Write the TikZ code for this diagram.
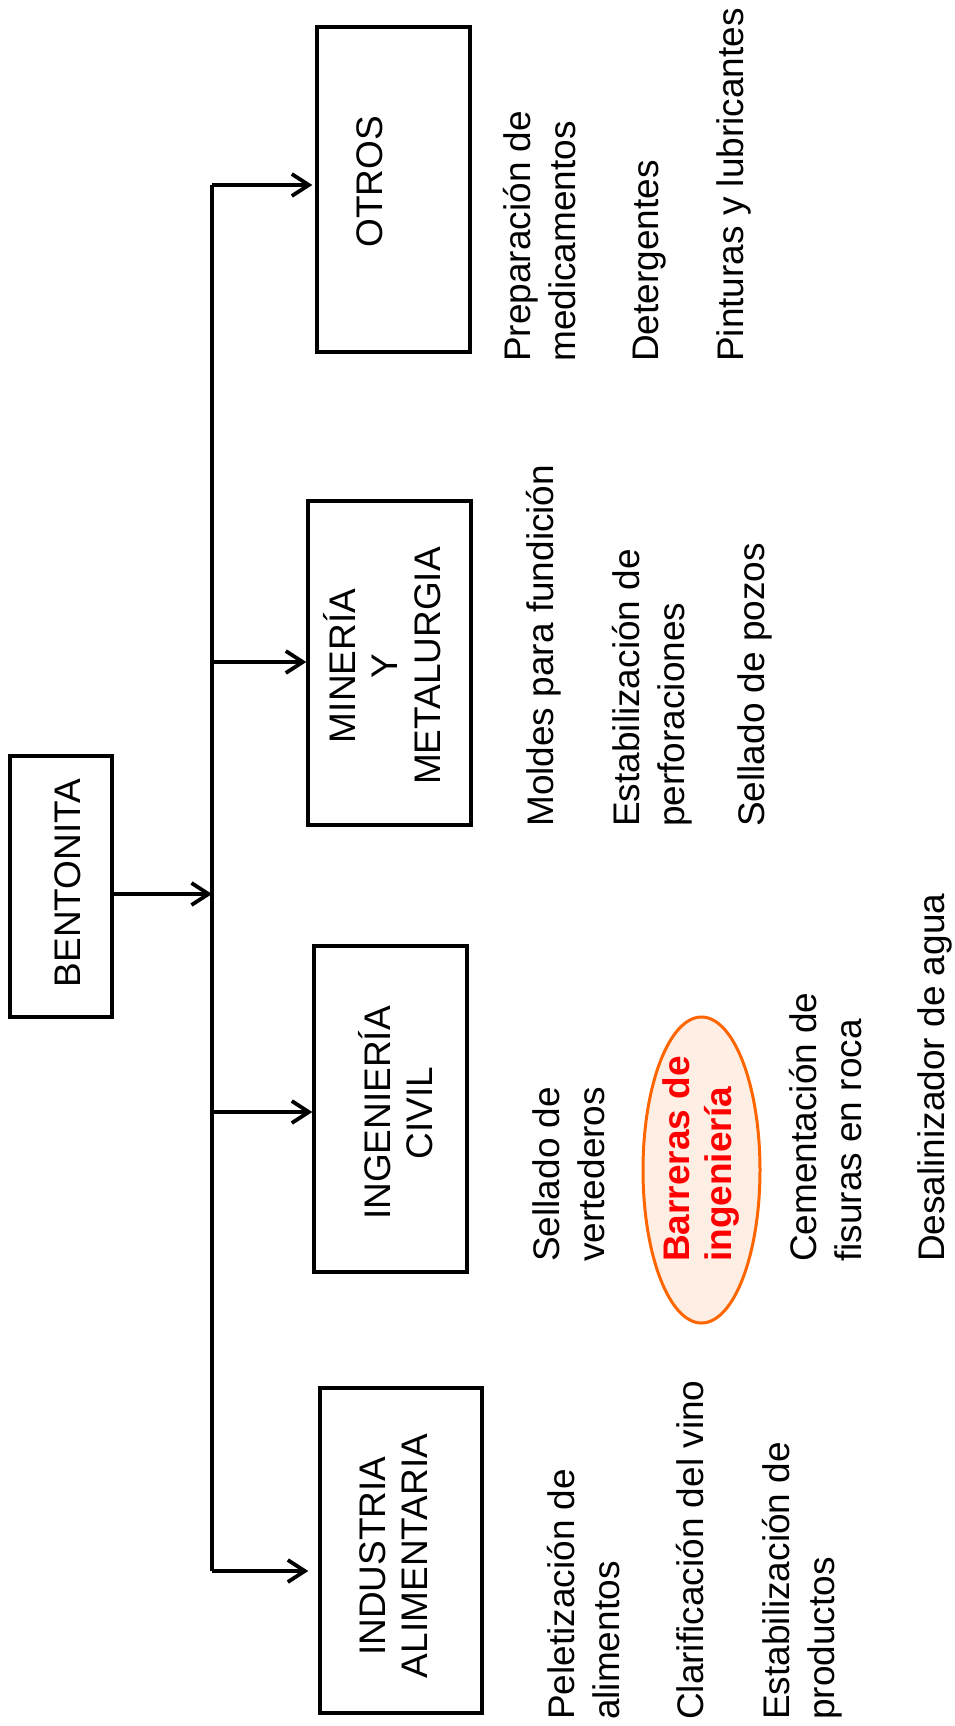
\documentclass[tikz,border=0pt]{standalone}
\usepackage{fontspec}
\setmainfont{Liberation Sans}
\usetikzlibrary{arrows.meta,shapes.geometric}
\definecolor{orng}{RGB}{255,102,0}
\definecolor{peach}{RGB}{254,238,228}
\definecolor{redtxt}{RGB}{255,0,0}
\tikzset{
  box/.style={draw, rectangle, line width=3.4pt, inner sep=0pt},
  arr/.style={-{Straight Barb[length=17pt,width=22pt,line width=3.8pt]}, line width=3.4pt},
  lbl/.style={rotate=90, inner sep=0pt, anchor=base, font=\fontsize{37}{42.5}\selectfont},
  itm/.style={rotate=90, inner sep=0pt, anchor=base west, font=\fontsize{37}{45}\selectfont}
}
\newcommand{\lines}[2][l]{\begin{tabular}[t]{@{}#1@{}}#2\end{tabular}}
\begin{document}
\begin{tikzpicture}[x=1pt,y=-1pt]
\fill[white] (0,0) rectangle (955,1726);
\useasboundingbox (0,0) rectangle (955,1726);

% boxes
\node[box, minimum width=102pt, minimum height=261pt] (bent) at (61,886.5) {};
\node[box, minimum width=153pt, minimum height=325pt] (otros) at (393.5,189.5) {};
\node[box, minimum width=163pt, minimum height=324pt] (mine) at (389.5,663) {};
\node[box, minimum width=153pt, minimum height=326pt] (ingc) at (390.5,1109) {};
\node[box, minimum width=162pt, minimum height=325pt] (indu) at (401,1550.5) {};

% box labels
\node[lbl] (tbent) at (80,883) {BENTONITA};
\node[lbl] (totros) at (382,182) {OTROS};
\node[lbl] (tmine) at (355,666) {\lines[c]{MINERÍA\\Y\\METALURGIA}};
\node[lbl] (tingc) at (390,1113) {\lines[c]{INGENIERÍA\\CIVIL}};
\node[lbl] (tindu) at (385,1556) {\lines[c]{INDUSTRIA\\ALIMENTARIA}};

% trunk and connectors
\coordinate (ttop) at (212,185);
\coordinate (tbot) at (212,1571);
\coordinate (tin) at (212,894);
\coordinate (tm) at (212,662);
\coordinate (ti) at (212,1112);
\draw[line width=3.4pt] (ttop) -- (tbot);
\draw[arr] (bent.east |- tin) -- (tin);
\draw[arr, shorten >=3pt] (ttop) -- (ttop -| otros.west);
\draw[arr] (tm) -- (tm -| mine.west);
\draw[arr] (ti) -- (ti -| ingc.west);
\draw[arr, shorten >=10pt] (tbot) -- (tbot -| indu.west);

% highlight ellipse
\node[ellipse, draw=orng, fill=peach, line width=3pt, inner sep=0pt,
      minimum width=117pt, minimum height=306pt] (ell) at (701.5,1170) {};

% OTROS items
\node[itm] (prep) at (530,362) {\lines{Preparación de\\medicamentos}};
\node[itm] (deter) at (658.5,362) {Detergentes};
\node[itm] (pint) at (743.5,362) {Pinturas y lubricantes};

% MINERIA items
\node[itm] (mold) at (553.5,827) {Moldes para fundición};
\node[itm] (estp) at (639.5,827) {\lines{Estabilización de\\perforaciones}};
\node[itm] (sellp) at (764.5,827) {Sellado de pozos};

% INGENIERIA items
\node[itm] (sellv) at (559.5,1262) {\lines{Sellado de\\vertederos}};
\node[itm, text=redtxt, font=\bfseries\fontsize{37}{42}\selectfont] (barr) at (689.5,1262) {\lines{Barreras de\\ingeniería}};
\node[itm] (cem) at (816.5,1262) {\lines{Cementación de\\fisuras en roca}};
\node[itm] (desal) at (944.5,1262) {Desalinizador de agua};

% INDUSTRIA items
\node[itm] (pel) at (574.5,1720) {\lines{Peletización de\\alimentos}};
\node[itm] (clar) at (703.5,1720) {Clarificación del vino};
\node[itm] (estpr) at (789.5,1720) {\lines{Estabilización de\\productos}};
\end{tikzpicture}
\end{document}
